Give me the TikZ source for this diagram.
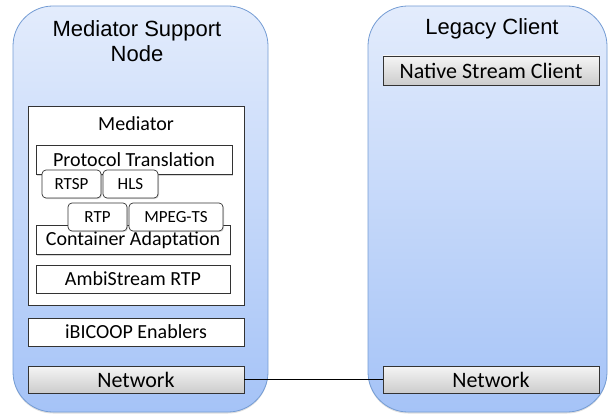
\documentclass[tikz,border=0pt]{standalone}
\usepackage{fontspec}
\setmainfont{Carlito}
\newfontfamily\titlefont{Liberation Sans}
\usetikzlibrary{shadows}
\definecolor{paletop}{HTML}{E3ECFC}
\definecolor{palebot}{HTML}{A5C3F7}
\definecolor{paleedge}{HTML}{749CD4}
\begin{document}
\begin{tikzpicture}[x=1pt,y=-1pt,
  host/.style={rectangle,rounded corners=40pt,draw=paleedge,line width=0.8pt,
    top color=paletop,bottom color=palebot,inner sep=0pt,
    drop shadow={shadow xshift=0pt,shadow yshift=-1.5pt,opacity=0.25}},
  layer/.style={rectangle,draw=black!80,line width=0.7pt,fill=white,inner sep=0pt,
    minimum height=28pt,font=\fontsize{20}{23}\selectfont,
    drop shadow={shadow xshift=1pt,shadow yshift=-1pt,opacity=0.3}},
  proto/.style={layer,rounded corners=4pt,minimum height=28pt,font=\fontsize{17}{20}\selectfont},
  net/.style={layer,top color=gray!8,bottom color=gray!40,font=\fontsize{22}{25}\selectfont},
  title/.style={align=center,font=\titlefont\fontsize{22}{25.5}\selectfont}]
\useasboundingbox (0,0) rectangle (609,414);

\node[host,minimum width=255pt,minimum height=406pt] (msn) at (140.5,209) {};
\node[host,minimum width=239pt,minimum height=406pt] (lc) at (487.5,209) {};
\node[title] (msntitle) at (137,41) {Mediator Support\\Node};
\node[title] (lctitle) at (492,29) {Legacy Client};

\node[layer,minimum width=216pt,minimum height=199pt] (mediator) at (136,205.5) {};
\node[font=\fontsize{20}{23}\selectfont] (medlabel) at (136,124) {Mediator};
\node[layer,minimum width=196pt,minimum height=29pt] (ptrans) at (134,160) {Protocol Translation};
\node[proto,minimum width=59pt] (rtsp) at (71.5,184) {RTSP};
\node[proto,minimum width=55pt] (hls) at (130.5,184) {HLS};
\node[layer,minimum width=194pt,minimum height=29pt] (cadapt) at (133,240) {Container Adaptation};
\node[proto,minimum width=59pt] (rtp) at (97.5,217) {RTP};
\node[proto,minimum width=94pt] (mpegts) at (176,217) {MPEG-TS};
\node[layer,minimum width=194pt] (ambi) at (133,279) {AmbiStream RTP};

\node[layer,minimum width=216pt] (ibicoop) at (136,332) {iBICOOP Enablers};
\node[net,minimum width=216pt,minimum height=27pt] (netl) at (136,379.5) {Network};

\node[net,minimum width=216pt,minimum height=29pt] (nsc) at (491,70.5) {Native Stream Client};
\node[net,minimum width=216pt,minimum height=27pt] (netr) at (491,379.5) {Network};

\draw[line width=0.7pt] (netl.east) -- (netr.west);
\end{tikzpicture}
\end{document}
